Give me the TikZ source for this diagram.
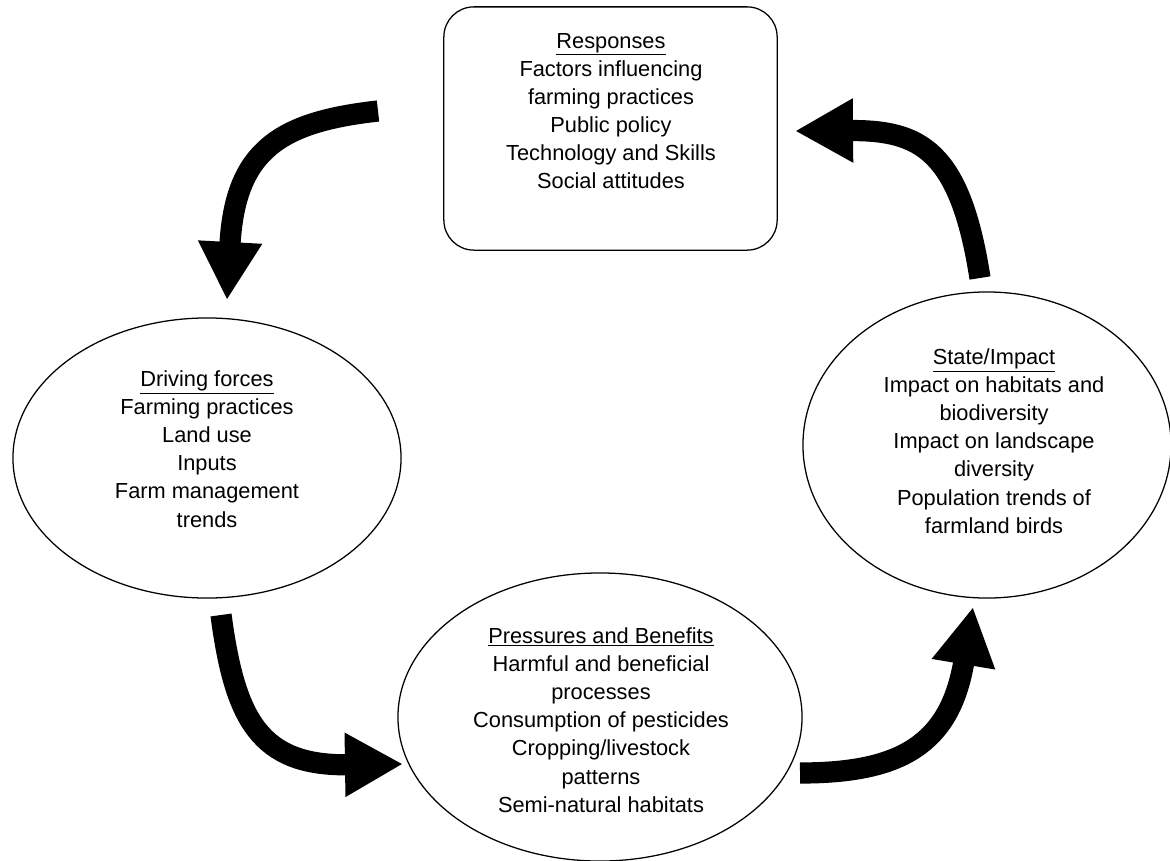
\documentclass[tikz,border=0pt]{standalone}
\usepackage{fontspec}
\setmainfont{Liberation Sans}
\usetikzlibrary{arrows.meta,shapes.geometric}
\tikzset{
    stage/.style={draw, ellipse, line width=0.9pt, inner sep=0pt},
    frame/.style={draw, rectangle, rounded corners=0.75cm, line width=0.9pt, inner sep=0pt},
    txt/.style={align=center, inner sep=0pt, font=\fontsize{15.5}{20}\selectfont},
    flow/.style={line width=0.53cm, -{Triangle[length=1.45cm,width=1.5cm]}}
}

\begin{document}
\begin{tikzpicture}[x=0.025cm,y=-0.025cm]
\useasboundingbox (0,0) rectangle (1170,861);
\node[frame, minimum width=8.33cm, minimum height=6.08cm] (resp) at (610.5,128.5) {};
\node[stage, minimum width=9.7cm, minimum height=7cm] (drive) at (207,458) {};
\node[stage, minimum width=10.1cm, minimum height=7.2cm] (press) at (600,717) {};
\node[stage, minimum width=9.2cm, minimum height=7.65cm] (state) at (987,445) {};
\node[txt] (resptxt) at (611,111) {\underline{Responses}\\Factors influencing\\farming practices\\Public policy\\Technology and Skills\\Social attitudes};
\node[txt] (drivetxt) at (207,449) {\underline{Driving forces}\\Farming practices\\Land use\\Inputs\\Farm management\\trends};
\node[txt] (presstxt) at (601,720) {\underline{Pressures and Benefits}\\Harmful and beneficial\\processes\\Consumption of pesticides\\Cropping/livestock\\patterns\\Semi-natural habitats};
\node[txt] (statetxt) at (994,441) {\underline{State/Impact}\\Impact on habitats and\\biodiversity\\Impact on landscape\\diversity\\Population trends of\\farmland birds};
% arrow ends
\coordinate (A) at (378,111);
\coordinate (B) at (227,300);
\coordinate (C) at (221,615);
\coordinate (D) at (403,764);
\coordinate (E) at (800,773);
\coordinate (F) at (973,607);
\coordinate (G) at (980,278);
\coordinate (H) at (795,131);
\draw[flow] (A) .. controls (280,122) and (235,150) .. (B);
\draw[flow] (C) .. controls (235,720) and (260,766) .. (D);
\draw[flow] (E) .. controls (900,773) and (950,745) .. (F);
\draw[flow] (G) .. controls (960,150) and (920,130) .. (H);
\end{tikzpicture}
\end{document}
